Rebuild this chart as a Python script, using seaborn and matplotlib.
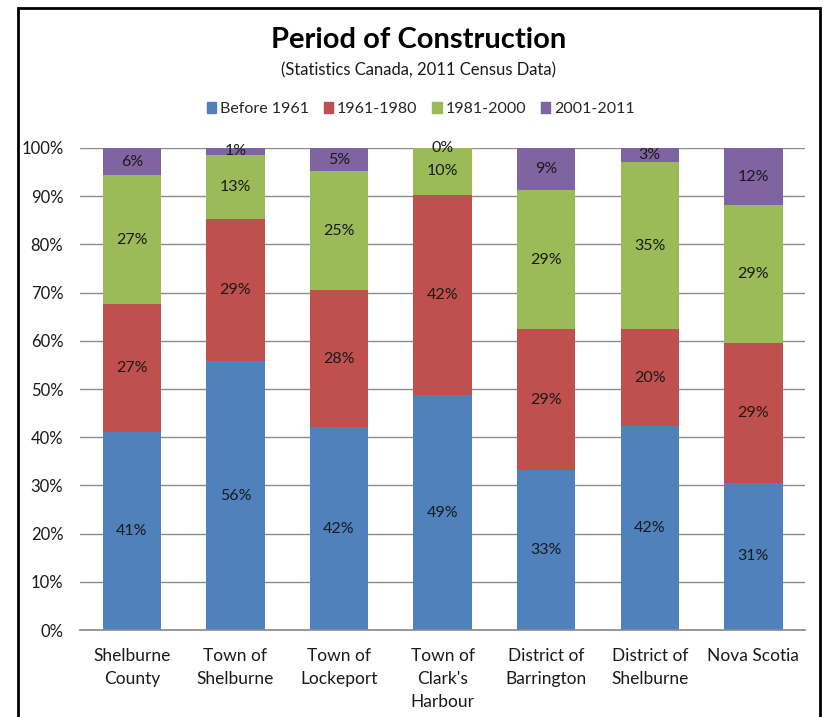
import matplotlib
matplotlib.use("Agg")
import matplotlib.pyplot as plt
import matplotlib.patches as mpatches
import numpy as np
import pandas as pd
import seaborn as sns

places = ["Shelburne\nCounty", "Town of\nShelburne", "Town of\nLockeport",
          "Town of\nClark's\nHarbour", "District of\nBarrington",
          "District of\nShelburne", "Nova Scotia"]
periods = ["Before 1961", "1961-1980", "1981-2000", "2001-2011"]
before_1961 = [41.1, 55.8, 42.1, 48.7, 33.2, 42.3, 30.6]
p1961_1980 = [26.6, 29.4, 28.4, 41.6, 29.2, 20.1, 28.9]
p1981_2000 = [26.6, 13.4, 24.7, 9.7, 28.9, 34.7, 28.6]
p2001_2011 = [5.7, 1.4, 4.8, 0.0, 8.7, 2.9, 11.9]
colors = ["#4F81BD", "#C0504D", "#9BBB59", "#8064A2"]

sns.set_theme(style="white")
plt.rcParams["font.family"] = ["Lato", "DejaVu Sans"]

layers = [before_1961, p1961_1980, p1981_2000, p2001_2011]
cum = np.cumsum(np.array(layers), axis=0)

fig = plt.figure(figsize=(8.25, 7.17), dpi=100)
ax = fig.add_axes([0.097, 0.1213, 0.879, 0.6723])

# draw cumulative totals from the top layer down so they stack visually
for i in range(len(layers) - 1, -1, -1):
    df = pd.DataFrame({"place": places, "value": cum[i]})
    sns.barplot(data=df, x="place", y="value", color=colors[i], width=0.565,
                saturation=1, edgecolor="none", ax=ax, zorder=2)

for i, layer in enumerate(layers):
    for j, v in enumerate(layer):
        mid = cum[i][j] - v / 2
        ax.text(j, mid, f"{v:.0f}%", ha="center", va="center",
                fontsize=11.5, color="#1a1a1a", zorder=3)

ax.set_xlim(-0.5, 6.5)
ax.set_ylim(0, 100)
ax.set_yticks(range(0, 101, 10))
ax.set_yticklabels([f"{t}%" for t in range(0, 101, 10)])
ax.yaxis.grid(True, color="#8c8c8c", linewidth=1)
ax.set_axisbelow(True)
ax.set_xlabel("")
ax.set_ylabel("")
for s in ["top", "right", "left"]:
    ax.spines[s].set_visible(False)
ax.spines["bottom"].set_color("#8c8c8c")
ax.tick_params(axis="both", length=0, labelsize=12, colors="#1a1a1a")
ax.tick_params(axis="x", pad=13, labelsize=12.5)
ax.tick_params(axis="y", pad=12)
for lab in ax.get_xticklabels():
    lab.set_linespacing(1.55)

fig.text(0.507, 0.944, "Period of Construction", ha="center", va="center",
         fontsize=21, fontweight="bold", color="black")
fig.text(0.507, 0.902, "(Statistics Canada, 2011 Census Data)", ha="center",
         va="center", fontsize=12, color="#1a1a1a")

handles = [mpatches.Patch(color=c, label=p) for c, p in zip(colors, periods)]
fig.legend(handles=handles, loc="center", bbox_to_anchor=(0.51, 0.848),
           ncol=4, frameon=False, fontsize=11.5, handlelength=0.6,
           handleheight=0.7, handletextpad=0.25, columnspacing=0.9)

fig.patches.append(mpatches.Rectangle((18 / 825, -0.05), (820 - 18) / 825,
                                      1.05 - 8 / 717, transform=fig.transFigure,
                                      fill=False, edgecolor="black", linewidth=2))

fig.savefig("out.png", dpi=100)
